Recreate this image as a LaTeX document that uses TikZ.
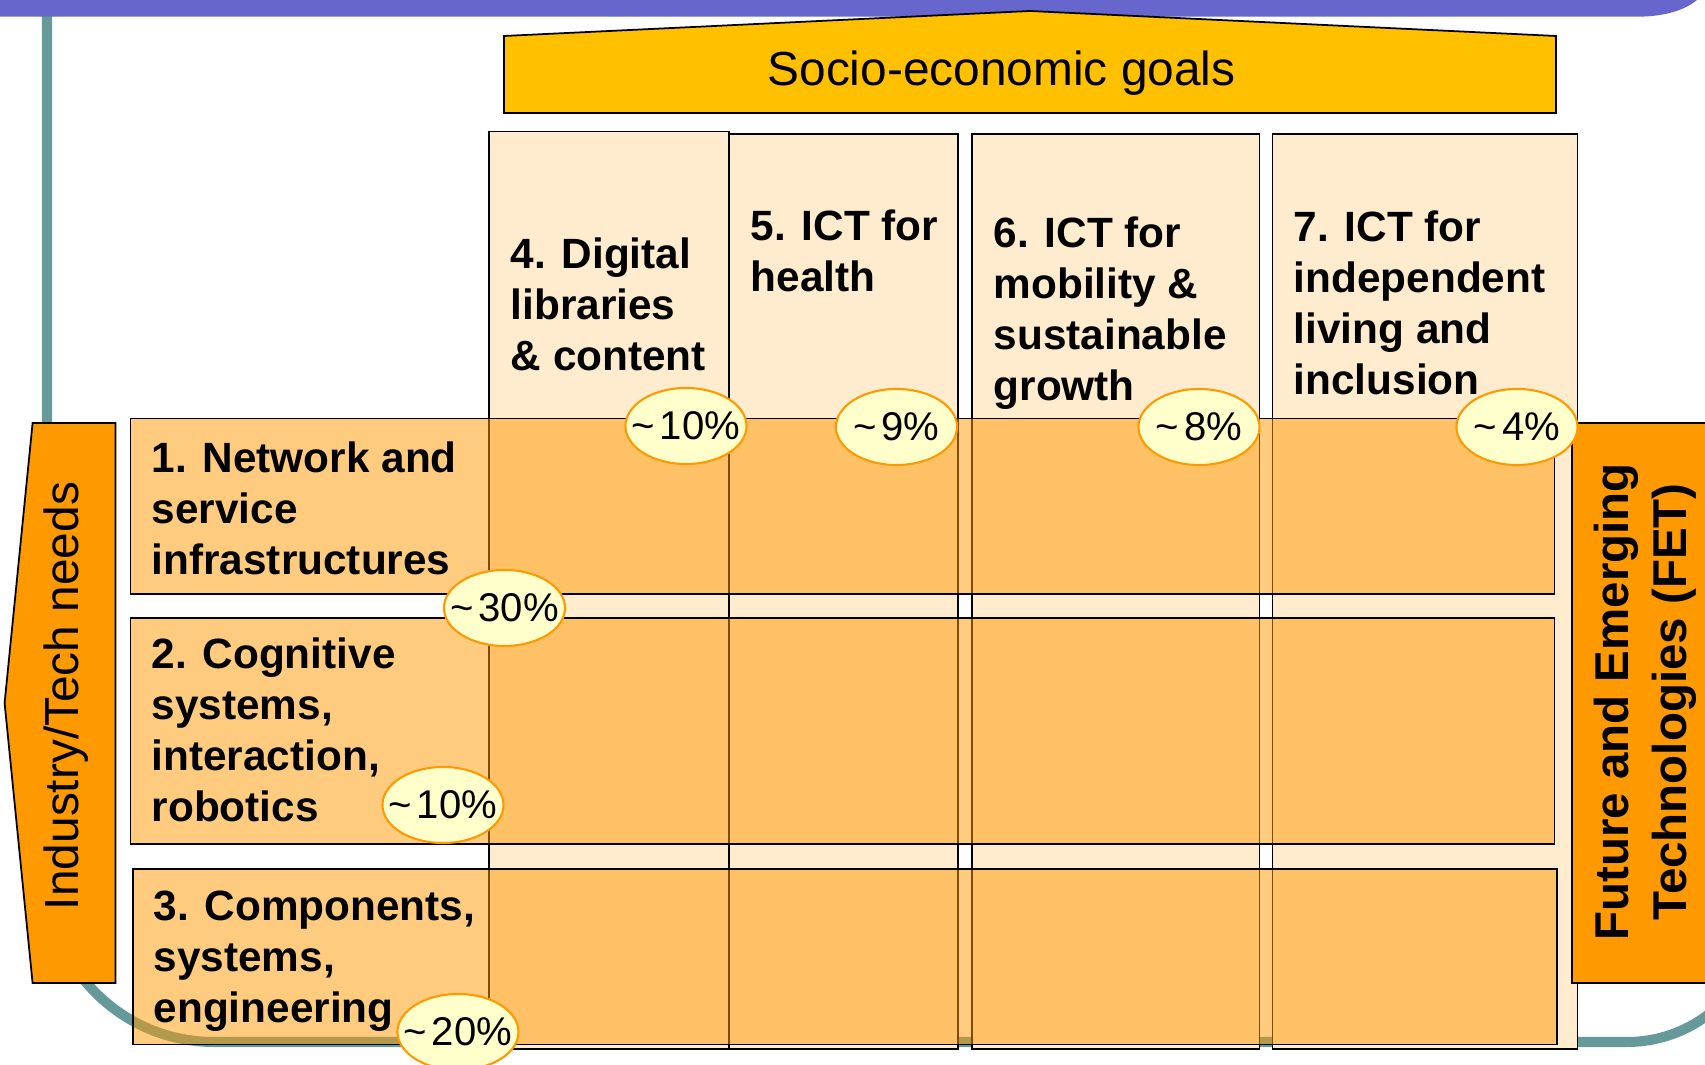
\documentclass[tikz,border=0pt]{standalone}
\usepackage{fontspec}
\setmainfont{Liberation Sans}
\usetikzlibrary{shapes.geometric}
\definecolor{bandpurple}{HTML}{6666CC}
\definecolor{frameteal}{HTML}{669999}
\definecolor{goalgold}{HTML}{FFC000}
\definecolor{colcream}{HTML}{FFEBCD}
\definecolor{needorange}{HTML}{FF9900}
\definecolor{pctfill}{HTML}{FFFFCC}
\newcommand\pctlabel[1]{\makebox[0pt]{\textasciitilde\hspace{0.12em}#1\%}}
\begin{document}
\begin{tikzpicture}[x=0.01cm,y=-0.01cm,
  frameline/.style={draw=frameteal, line width=2.85pt},
  colbox/.style={fill=colcream, draw=black, line width=0.5pt},
  rowbox/.style={fill=needorange, fill opacity=0.5, draw=black, line width=0.5pt},
  sidebox/.style={fill=needorange, draw=black, line width=0.5pt},
  headtext/.style={anchor=base west, inner sep=0pt, font=\bfseries\fontsize{12.04}{14.5}\selectfont},
  sidetext/.style={rotate=90, anchor=base, inner sep=0pt},
  pct/.style={ellipse, fill=pctfill, draw=needorange, line width=0.6pt, minimum width=1.21cm, minimum height=0.76cm, inner sep=0pt, font=\fontsize{11.4}{13}\selectfont},
]
\useasboundingbox (0,0) rectangle (1705,1065);
\clip (0,0) rectangle (1705,1065);
\fill[white] (0,0) rectangle (1705,1065);

% slide frame
\draw[frameline] (47,5) -- (47,875) .. controls (47,967.2) and (121.8,1042) .. (214,1042)
  -- (1627,1042) .. controls (1701,1042) and (1761,982) .. (1761,908);
\fill[bandpurple] (-5,-5) -- (1697,-5) -- (1697,0) .. controls (1685,10) and (1665,16.7) .. (1637,16.7) -- (-5,16.7) -- cycle;

% socio-economic goals banner
\draw[fill=goalgold, draw=black, line width=0.5pt] (504,113) -- (504,36) -- (1030,11) -- (1556,36) -- (1556,113) -- cycle;
\node[anchor=base, inner sep=0pt, font=\fontsize{13.6}{16}\selectfont] (goals) at (1001.5,86) {Socio-economic goals};

% columns
\draw[colbox] (489,131.6) rectangle (729,1049);
\draw[colbox] (729,133.7) rectangle (957.7,1049);
\draw[colbox] (972,133.7) rectangle (1259.5,1049);
\draw[colbox] (1272.5,133.7) rectangle (1577.5,1049);

\node[headtext] (c4) at (510,269) {\begin{tabular}[t]{@{}l@{}}4. Digital\\libraries\\\& content\end{tabular}};
\node[headtext] (c5) at (750,241) {\begin{tabular}[t]{@{}l@{}}5. ICT for\\health\end{tabular}};
\node[headtext] (c6) at (993,248) {\begin{tabular}[t]{@{}l@{}}6. ICT for\\mobility \&\\sustainable\\growth\end{tabular}};
\node[headtext] (c7) at (1293,242) {\begin{tabular}[t]{@{}l@{}}7. ICT for\\independent\\living and\\inclusion\end{tabular}};

% rows
\draw[rowbox] (130.5,418.6) rectangle (1554.5,594);
\draw[rowbox] (130.5,618) rectangle (1554.5,844);
\draw[rowbox] (132.7,869) rectangle (1557,1044.6);

\node[headtext] (r1) at (151,473) {\begin{tabular}[t]{@{}l@{}}1. Network and\\service\\infrastructures\end{tabular}};
\node[headtext] (r2) at (151,669) {\begin{tabular}[t]{@{}l@{}}2. Cognitive\\systems,\\interaction,\\robotics\end{tabular}};
\node[headtext] (r3) at (153,921) {\begin{tabular}[t]{@{}l@{}}3. Components,\\systems,\\engineering\end{tabular}};

% side boxes
\draw[sidebox] (115.5,423) -- (32.6,423) -- (4.6,703) -- (32.6,983) -- (115.5,983) -- cycle;
\node[sidetext, font=\fontsize{13.6}{16}\selectfont] (needs) at (78.5,696) {Industry/Tech needs};
\draw[sidebox] (1571.7,423) rectangle (1740,983);
\node[sidetext, font=\bfseries\fontsize{13.5}{16.5}\selectfont] (fet) at (1628.5,702) {\begin{tabular}[t]{@{}c@{}}Future and Emerging\\Technologies (FET)\end{tabular}};

% percentages
\node[pct] (p4) at (686,426) {\pctlabel{10}};
\node[pct] (p5) at (896.5,427) {\pctlabel{9}};
\node[pct] (p6) at (1199,427) {\pctlabel{8}};
\node[pct] (p7) at (1517,427) {\pctlabel{4}};
\node[pct] (p1) at (504.5,608) {\pctlabel{30}};
\node[pct] (p2) at (443,805) {\pctlabel{10}};
\node[pct] (p3) at (458,1032) {\pctlabel{20}};
\end{tikzpicture}
\end{document}
